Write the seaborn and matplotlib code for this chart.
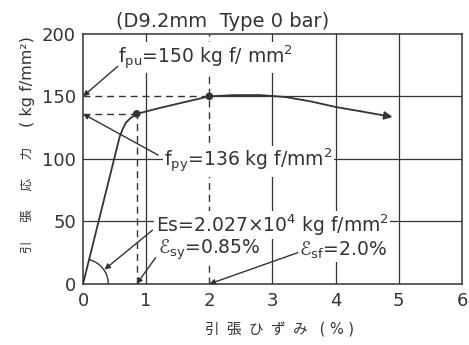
import numpy as np
import pandas as pd
import matplotlib
matplotlib.use("Agg")
import matplotlib.pyplot as plt
import seaborn as sns

# Stress-strain curve of the D9.2 mm Type 0 bar (strain in %, stress in kgf/mm^2)
strain = [0.0, 0.58, 0.63, 0.68, 0.75, 0.85, 1.2, 1.6, 2.0, 2.4, 2.8, 3.2, 3.6, 4.0, 4.4, 4.9]
stress = [0.0, 117.6, 124.0, 129.0, 132.5, 136.0, 140.5, 145.3, 150.0, 151.0, 151.0, 149.5, 146.0, 141.5, 138.0, 133.5]

# Characteristic values
eps_sy, f_py = 0.85, 136
eps_sf, f_pu = 2.0, 150
E_s = 2.027e4  # kgf/mm^2

x_ticks = [0, 1, 2, 3, 4, 5, 6]
y_ticks = [0, 50, 100, 150, 200]

ink = "#333333"

sns.set_theme(style="white")
plt.rcParams["font.family"] = ["DejaVu Sans", "Noto Sans CJK JP"]
plt.rcParams["mathtext.default"] = "regular"

fig = plt.figure(figsize=(4.69, 3.45), dpi=100)
ax = fig.add_axes([0.177, 0.177, 0.808, 0.725])

# Grid: solid lines except where the dashed reference lines run
for gx in [1, 3, 4, 5]:
    ax.axvline(gx, color=ink, lw=0.9, zorder=1)
for gy in [50, 100]:
    ax.axhline(gy, color=ink, lw=0.9, zorder=1)
ax.plot([eps_sf, 6], [f_pu, f_pu], color=ink, lw=0.9, zorder=1)

dash = dict(color=ink, lw=1.0, ls=(0, (5, 3.5)), zorder=2)
ax.plot([eps_sf, eps_sf], [0, 200], **dash)
ax.plot([0, eps_sf], [f_pu, f_pu], **dash)
ax.plot([0, eps_sy], [f_py, f_py], **dash)
ax.plot([eps_sy, eps_sy], [0, f_py], **dash)

df = pd.DataFrame({"strain": strain, "stress": stress})
sns.lineplot(data=df.iloc[:-1], x="strain", y="stress", color=ink, lw=1.3,
             sort=False, ax=ax, zorder=3)
ax.annotate("", xy=(strain[-1], stress[-1]), xytext=(strain[-2], stress[-2]),
            arrowprops=dict(arrowstyle="-|>", color=ink, lw=1.3,
                            mutation_scale=12, shrinkA=0, shrinkB=0), zorder=3)

pts = pd.DataFrame({"strain": [eps_sy, eps_sf], "stress": [f_py, f_pu]})
sns.scatterplot(data=pts, x="strain", y="stress", color=ink, s=30,
                edgecolor="none", ax=ax, zorder=4)

# Angle mark for the elastic modulus
t = np.linspace(0, np.arctan(E_s / 100 * 1.25 / 63.2), 60)
ax.plot(0.4 * np.cos(t), 20 * np.sin(t), color=ink, lw=1.0, zorder=3)

box = dict(facecolor="white", edgecolor="none", pad=1.0)
arrow = dict(arrowstyle="-|>", color=ink, lw=1.0, mutation_scale=8,
             shrinkA=0, shrinkB=0)
fs = 13.5

ax.text(0.56, 181, r"f$_{pu}$=150 kg f/ mm$^2$", fontsize=fs, color=ink,
        ha="left", va="center", bbox=box, zorder=5)
ax.annotate("", xy=(0, f_pu), xytext=(0.55, 174), arrowprops=arrow, zorder=5)

ax.text(1.28, 98, r"f$_{py}$=136 kg f/mm$^2$", fontsize=fs, color=ink,
        ha="left", va="center", bbox=box, zorder=5)
ax.annotate("", xy=(0, f_py), xytext=(1.19, 103), arrowprops=arrow, zorder=5)

ax.text(1.15, 47, r"Es=2.027$\times$10$^4$ kg f/mm$^2$", fontsize=fs, color=ink,
        ha="left", va="center", bbox=box, zorder=5)
ax.annotate("", xy=(0.34, 11.5), xytext=(1.1, 43), arrowprops=arrow, zorder=5)

ax.text(1.18, 27, r"ℰ$_{sy}$=0.85%", fontsize=fs, color=ink,
        ha="left", va="center", bbox=box, zorder=5)
ax.annotate("", xy=(eps_sy, 0), xytext=(1.15, 21), arrowprops=arrow, zorder=5)

ax.text(3.42, 27, r"ℰ$_{sf}$=2.0%", fontsize=fs, color=ink,
        ha="left", va="center", bbox=box, zorder=5)
ax.annotate("", xy=(eps_sf, 0), xytext=(3.40, 25), arrowprops=arrow, zorder=5)

ax.set_xlim(0, 6)
ax.set_ylim(0, 200)
ax.set_xticks(x_ticks)
ax.set_yticks(y_ticks)
ax.set_xlabel("")
ax.set_ylabel("")
ax.tick_params(axis="both", labelsize=13, colors=ink, length=0)
ax.tick_params(axis="x", pad=6)
ax.tick_params(axis="y", pad=5)
for s in ax.spines.values():
    s.set_color(ink)
    s.set_linewidth(1.1)

fig.text(0.475, 0.939, "(D9.2mm  Type 0 bar)", fontsize=14, color=ink,
         ha="center", va="center")
fig.text(0.597, 0.043, "引\u2002張\u2002ひ\u2002ず\u2002み\u2002 ( % )", fontsize=10.5,
         color=ink, ha="center", va="center")
fig.text(0.058, 0.42, "引\u2003\u2002張\u2003\u2002応\u2003\u2002力", fontsize=9,
         color=ink, ha="center", va="center", rotation=90)
fig.text(0.058, 0.764, "( kg f/mm²)", fontsize=11.5, color=ink,
         ha="center", va="center", rotation=90)

fig.savefig("out.png", dpi=100, facecolor="white")
